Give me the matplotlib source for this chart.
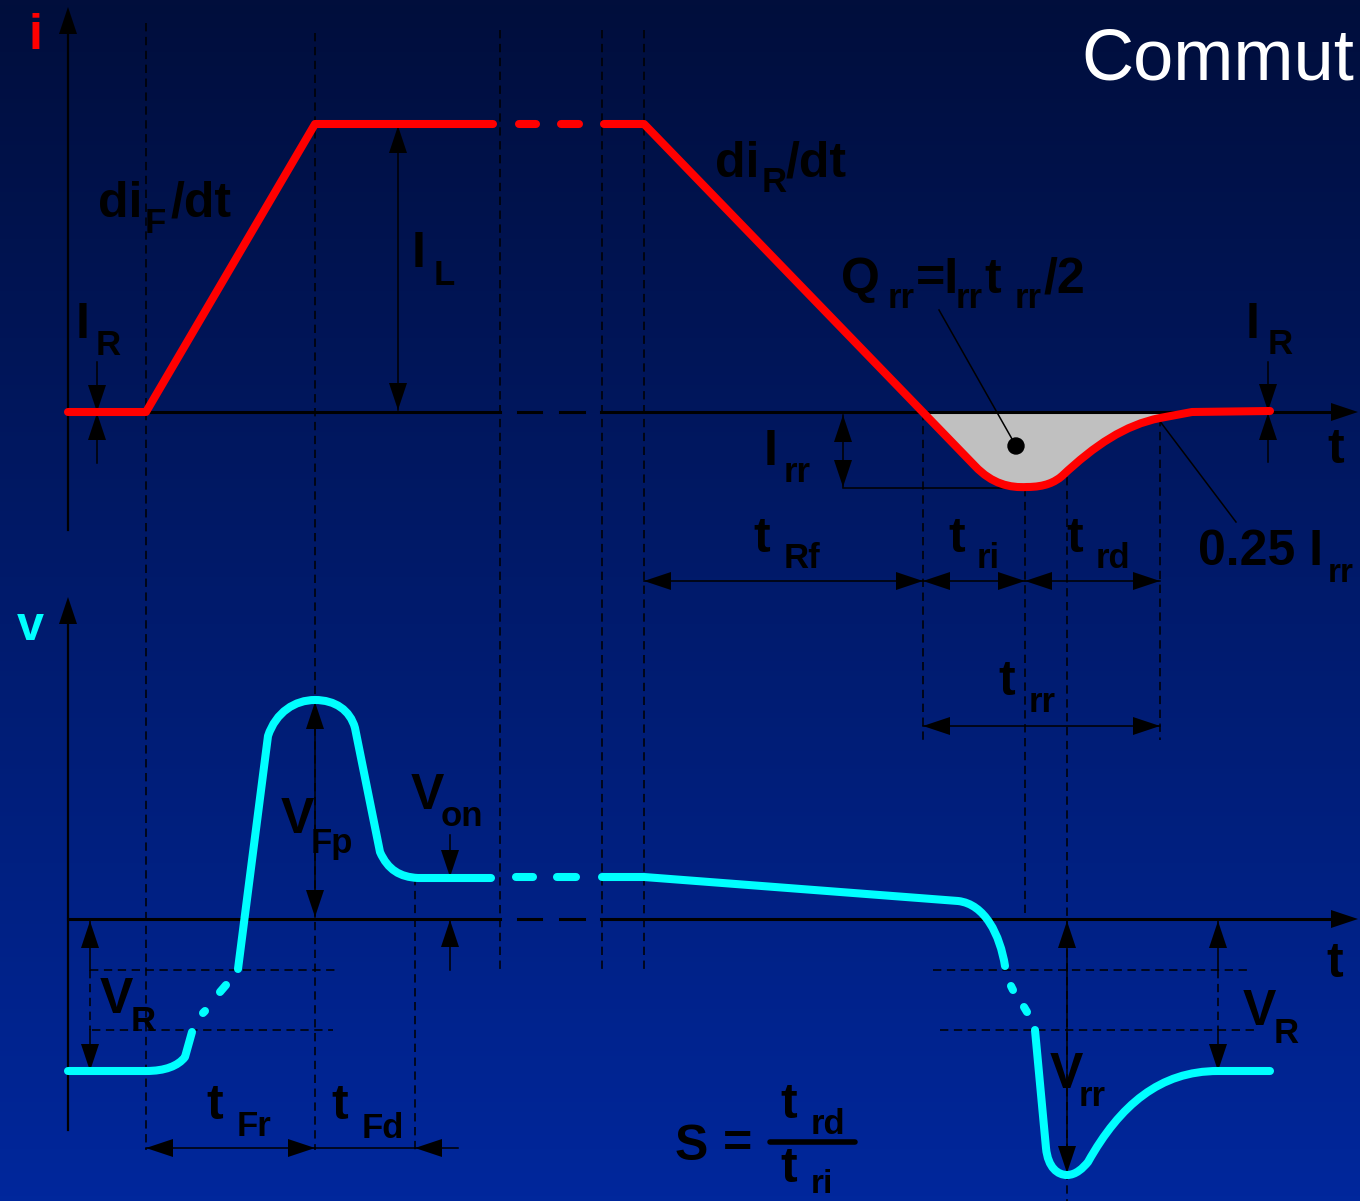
import numpy as np
import matplotlib
matplotlib.use("Agg")
import matplotlib.pyplot as plt
from matplotlib.path import Path
from matplotlib.patches import PathPatch, Polygon, Circle

plt.rcParams['lines.scale_dashes'] = False
FONT = ['Liberation Sans', 'DejaVu Sans']

# waveform shapes (pixel coordinates of the slide, y grows downwards)
CURRENT_HEAD = [('M', (68, 412)), ('L', (146, 412)), ('L', (315, 124)), ('L', (493, 124))]
CURRENT_GAP = [((519, 124), (536, 124)), ((561, 124), (579, 124))]
CURRENT_TAIL = [('M', (604, 124)), ('L', (644, 124)), ('L', (975, 466)),
                ('C', (992, 484), (1010, 488), (1027, 487)),
                ('C', (1045, 487), (1055, 482), (1062, 476)),
                ('C', (1095, 445), (1125, 425), (1160, 418)),
                ('L', (1192, 412)), ('L', (1270, 411))]
QRR_AREA = [('M', (923, 413)), ('L', (975, 466)),
            ('C', (992, 484), (1010, 488), (1027, 487)),
            ('C', (1045, 487), (1055, 482), (1062, 476)),
            ('C', (1095, 445), (1125, 425), (1160, 418)),
            ('L', (1192, 413))]

VOLT_1 = [('M', (68, 1071)), ('L', (146, 1071)),
          ('C', (165, 1071), (178, 1066), (185, 1057)), ('L', (192, 1032))]
VOLT_GAP_1 = [((203, 1013), (205, 1011)), ((220, 992), (226, 985))]
VOLT_2 = [('M', (238, 969)), ('L', (268, 736)),
          ('C', (276, 712), (295, 700), (315, 700)),
          ('C', (335, 700), (350, 710), (355, 728)),
          ('L', (380, 852)), ('C', (388, 870), (400, 877), (418, 878)),
          ('L', (491, 878))]
VOLT_GAP_2 = [((516, 877), (533, 877)), ((557, 877), (576, 877))]
VOLT_3 = [('M', (602, 877)), ('L', (644, 877)), ('L', (958, 901)),
          ('C', (985, 904), (1000, 935), (1005, 966))]
VOLT_GAP_3 = [((1011, 986), (1013, 990)), ((1024, 1007), (1027, 1012))]
VOLT_4 = [('M', (1035, 1030)), ('L', (1046, 1148)),
          ('C', (1048, 1168), (1058, 1175), (1067, 1175)),
          ('C', (1076, 1175), (1083, 1168), (1088, 1162)),
          ('C', (1120, 1105), (1160, 1071), (1218, 1071)),
          ('L', (1270, 1071))]

RED = '#ff0000'
CYAN = '#00ffff'


def make_path(segs, close=False):
    verts, codes = [], []
    for s in segs:
        if s[0] == 'M':
            verts.append(s[1]); codes.append(Path.MOVETO)
        elif s[0] == 'L':
            verts.append(s[1]); codes.append(Path.LINETO)
        else:
            verts += list(s[1:]); codes += [Path.CURVE4] * 3
    if close:
        verts.append(verts[0]); codes.append(Path.CLOSEPOLY)
    return Path(verts, codes)


def curve(segs, color):
    ax.add_patch(PathPatch(make_path(segs), fill=False, edgecolor=color, lw=5.8,
                           capstyle='round', joinstyle='round', zorder=6))


def dashes(pairs, color):
    for a, b in pairs:
        ax.plot([a[0], b[0]], [a[1], b[1]], color=color, lw=5.8,
                solid_capstyle='round', zorder=6)


def head(x, y, dx, dy, L=27, W=9):
    n = np.hypot(dx, dy)
    dx, dy = dx / n, dy / n
    bx, by = x - dx * L, y - dy * L
    ax.add_patch(Polygon([(x, y), (bx - dy * W, by + dx * W), (bx + dy * W, by - dx * W)],
                         closed=True, color='black', lw=0, zorder=5))


def line(x0, y0, x1, y1, lw=1.1, ls='-'):
    if ls == '--':
        ax.plot([x0, x1], [y0, y1], color='black', lw=lw, dashes=(6, 4), zorder=3)
    else:
        ax.plot([x0, x1], [y0, y1], color='black', lw=lw, zorder=4)


def darrow(x0, y0, x1, y1):
    line(x0, y0, x1, y1)
    head(x0, y0, x0 - x1, y0 - y1)
    head(x1, y1, x1 - x0, y1 - y0)


def tx(x, y, s, size=36, color='black', weight='bold'):
    ax.text(x, y, s, fontsize=size, color=color, fontweight=weight, ha='left',
            va='baseline', family=FONT, zorder=8)


def lab(x, y, main, sx, sy, sub, sub_size=25):
    tx(x, y, main)
    tx(sx, sy, sub, size=sub_size)


fig = plt.figure(figsize=(13.6, 12.01), dpi=100)
ax = fig.add_axes([0, 0, 1, 1])
ax.set_xlim(0, 1360)
ax.set_ylim(1201, 0)
ax.axis('off')

# background gradient
top = np.array([1, 14, 60]) / 255
bot = np.array([0, 39, 156]) / 255
t = np.linspace(0, 1, 256)[:, None]
grad = top + (bot - top) * t
ax.imshow(grad[:, None, :], extent=[0, 1360, 1201, 0], aspect='auto', zorder=0)

# dashed guide lines
for x, y0, y1 in [(146, 23, 1150), (315, 33, 1150), (500, 30, 970), (602, 30, 970),
                  (644, 30, 970), (415, 877, 1150), (923, 412, 740), (1025, 488, 920),
                  (1067, 477, 1201), (1160, 418, 740), (90, 970, 1030), (1218, 970, 1030)]:
    line(x, y0, x, y1, ls='--')
for y, x0, x1 in [(970, 90, 340), (1030, 92, 333), (970, 933, 1250), (1030, 940, 1257)]:
    line(x0, y, x1, y, ls='--')

# axes
for ya in (412, 919):
    ax.plot([68, 500], [ya, ya], color='black', lw=2.2, zorder=4)
    ax.plot([518, 541], [ya, ya], color='black', lw=2.2, zorder=4)
    ax.plot([560, 584], [ya, ya], color='black', lw=2.2, zorder=4)
    ax.plot([601, 1335], [ya, ya], color='black', lw=2.2, zorder=4)
    head(1358, ya, 1, 0)
line(68, 530, 68, 20, lw=1.6)
head(68, 7, 0, -1)
line(68, 1130, 68, 610, lw=1.6)
head(68, 597, 0, -1)

# recovered charge area
ax.add_patch(PathPatch(make_path(QRR_AREA, close=True), facecolor='#c0c0c0',
                       edgecolor='none', zorder=2))

# dimension arrows, current part
line(97, 362, 97, 412); head(97, 412, 0, 1)
line(97, 463, 97, 413); head(97, 413, 0, -1)
line(1268, 362, 1268, 411); head(1268, 411, 0, 1)
line(1268, 462, 1268, 413); head(1268, 413, 0, -1)
darrow(398, 126, 398, 410)
darrow(843, 415, 843, 487)
line(843, 488, 1025, 488)
darrow(644, 581, 923, 581)
darrow(923, 581, 1025, 581)
darrow(1025, 581, 1160, 581)
darrow(923, 726, 1160, 726)
line(939, 310, 1016, 446)
line(1159, 420, 1236, 522)

# dimension arrows, voltage part
darrow(315, 702, 315, 917)
line(450, 835, 450, 877); head(450, 877, 0, 1)
line(450, 970, 450, 920); head(450, 920, 0, -1)
line(90, 970, 90, 921); head(90, 921, 0, -1)
line(90, 1030, 90, 1071); head(90, 1071, 0, 1)
line(1218, 970, 1218, 921); head(1218, 921, 0, -1)
line(1218, 1030, 1218, 1071); head(1218, 1071, 0, 1)
darrow(1067, 921, 1067, 1173)
darrow(146, 1148, 315, 1148)
line(315, 1148, 458, 1148); head(415, 1148, -1, 0)

# waveforms
curve(CURRENT_HEAD, RED)
dashes(CURRENT_GAP, RED)
curve(CURRENT_TAIL, RED)
curve(VOLT_1, CYAN)
dashes(VOLT_GAP_1, CYAN)
curve(VOLT_2, CYAN)
dashes(VOLT_GAP_2, CYAN)
curve(VOLT_3, CYAN)
dashes(VOLT_GAP_3, CYAN)
curve(VOLT_4, CYAN)
ax.add_patch(Circle((1016, 446), 8, color='black', zorder=7))

# labels
tx(1081, 80, 'Commut', size=52, color='white', weight='normal')
tx(29, 49, 'i', color=RED)
tx(17, 640, 'v', size=35, color=CYAN)
tx(98, 217, 'di'); tx(145, 233, 'F', size=25); tx(171, 217, '/dt')
lab(412, 267, 'I', 434, 285, 'L')
lab(76, 338, 'I', 96, 355, 'R')
lab(1246, 338, 'I', 1268, 354, 'R')
tx(715, 177, 'di'); tx(762, 192, 'R', size=25); tx(786, 177, '/dt')
tx(841, 293, 'Q'); tx(888, 308, 'rr', size=25); tx(916, 293, '=I')
tx(956, 308, 'rr', size=25); tx(984, 293, 't'); tx(1015, 308, 'rr', size=25)
tx(1044, 293, '/2')
tx(1327, 463, 't')
lab(764, 465, 'I', 784, 482, 'rr')
lab(753, 552, 't', 784, 568, 'Rf')
lab(948, 552, 't', 977, 568, 'ri')
lab(1066, 552, 't', 1096, 568, 'rd')
lab(1198, 565, '0.25 I', 1328, 582, 'rr', sub_size=24)
lab(998, 695, 't', 1029, 712, 'rr')
lab(281, 833, 'V', 311, 853, 'Fp')
lab(411, 809, 'V', 441, 826, 'on')
lab(100, 1013, 'V', 131, 1031, 'R')
lab(1243, 1025, 'V', 1274, 1043, 'R')
lab(1050, 1088, 'V', 1079, 1106, 'rr')
tx(1326, 977, 't')
lab(206, 1119, 't', 237, 1136, 'Fr')
lab(331, 1119, 't', 362, 1138, 'Fd')
tx(675, 1160, 'S'); tx(723, 1158, '=')
ax.plot([770, 855], [1142, 1142], color='black', lw=4, solid_capstyle='round', zorder=6)
lab(780, 1118, 't', 811, 1134, 'rd')
lab(780, 1182, 't', 811, 1193, 'ri', sub_size=24)

fig.savefig('out.png', dpi=100)
